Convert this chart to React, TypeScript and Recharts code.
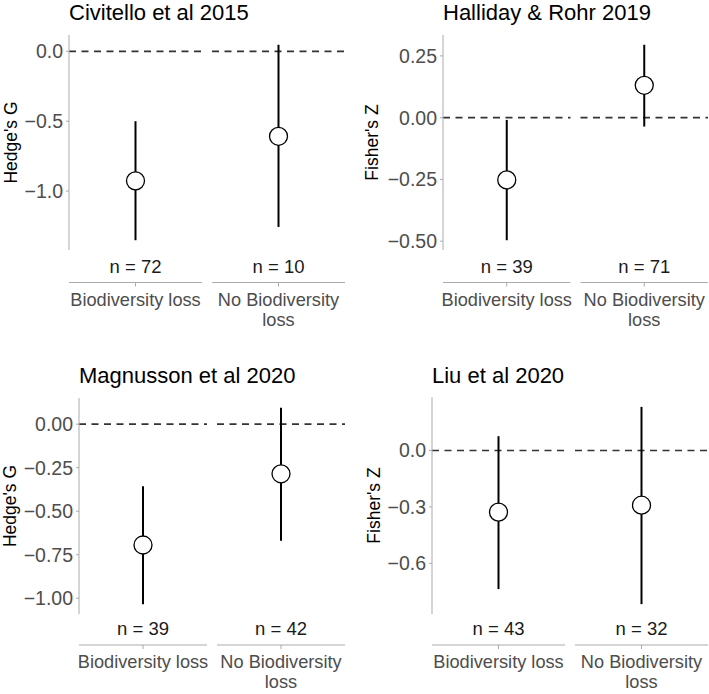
import { ErrorBar, ReferenceLine, Scatter, ScatterChart, XAxis, YAxis } from "recharts";

// category tick labels (wrapped the way the reference wraps them)
const CATEGORY_LINES = [["Biodiversity loss"], ["No Biodiversity", "loss"]];

const civitelloMean = [-0.927, -0.608];
const civitelloLower = [-1.352, -1.257];
const civitelloUpper = [-0.5, 0.047];
const civitelloN = [72, 10];
const civitelloTicks = [0, -0.5, -1];

const hallidayMean = [-0.252, 0.131];
const hallidayLower = [-0.496, -0.036];
const hallidayUpper = [-0.009, 0.295];
const hallidayN = [39, 71];
const hallidayTicks = [0.25, 0, -0.25, -0.5];

const magnussonMean = [-0.694, -0.285];
const magnussonLower = [-1.034, -0.669];
const magnussonUpper = [-0.356, 0.094];
const magnussonN = [39, 42];
const magnussonTicks = [0, -0.25, -0.5, -0.75, -1];

const liuMean = [-0.328, -0.291];
const liuLower = [-0.737, -0.817];
const liuUpper = [0.076, 0.232];
const liuN = [43, 32];
const liuTicks = [0, -0.3, -0.6];

const FONT = "'Liberation Sans', Arial, sans-serif";
const AXIS_GREY = "#ababab";
const TEXT_GREY = "#4d4d4d";
const FACET_GAP = 10;

type Layout = {
  left: number;
  top: number;
  width: number;
  height: number;
  axisWidth: number;
  plotTop: number;
  xAxisHeight: number;
  right: number;
  labelX: number;
  titleBaseline: number;
  shift: number;
};

function fmt(v: number, digits: number) {
  return v.toFixed(digits).replace("-", "\u2212");
}

function FacetTick(props: any) {
  const { x, y, payload, ns, facetWidth, shift } = props;
  const i = Math.round(payload.value) - 1;
  const lines = CATEGORY_LINES[i] ?? [];
  const base = y + shift;
  return (
    <g>
      <text x={x} y={base + 22} textAnchor="middle" fontSize={18.5} fill="#1a1a1a" fontFamily={FONT}>
        {`n = ${ns[i]}`}
      </text>
      <line x1={x - facetWidth / 2} x2={x + facetWidth / 2} y1={base + 32} y2={base + 32} stroke={AXIS_GREY} />
      <line x1={x} x2={x} y1={base + 32} y2={base + 36} stroke={AXIS_GREY} />
      {lines.map((line: string, k: number) => (
        <text
          key={line}
          x={x}
          y={base + 55 + k * 20}
          textAnchor="middle"
          fontSize={18.2}
          fill={TEXT_GREY}
          fontFamily={FONT}
        >
          {line}
        </text>
      ))}
    </g>
  );
}

function EffectPanel({
  title,
  yLabel,
  mean,
  lower,
  upper,
  ns,
  ticks,
  digits,
  layout,
}: {
  title: string;
  yLabel: string;
  mean: number[];
  lower: number[];
  upper: number[];
  ns: number[];
  ticks: number[];
  digits: number;
  layout: Layout;
}) {
  const rows = mean.map((m, i) => ({ x: i + 1, y: m, err: [m - lower[i], upper[i] - m] }));

  const lo = Math.min(...lower);
  const hi = Math.max(...upper);
  const pad = (hi - lo) * 0.05;

  const plotWidth = layout.width - layout.axisWidth - layout.right;
  const facetWidth = (plotWidth - FACET_GAP) / 2;
  const half = facetWidth / 2 / (facetWidth + FACET_GAP);

  return (
    <div style={{ position: "absolute", left: layout.left, top: layout.top, width: layout.width, height: layout.height }}>
      <div
        style={{
          position: "absolute",
          left: layout.axisWidth,
          top: layout.titleBaseline - 18.7,
          fontSize: 22,
          lineHeight: "22px",
          whiteSpace: "nowrap",
          color: "#000",
          fontFamily: FONT,
        }}
      >
        {title}
      </div>
      <ScatterChart
        width={layout.width}
        height={layout.height}
        margin={{ top: layout.plotTop, right: layout.right, bottom: 0, left: 0 }}
      >
        <XAxis
          type="number"
          dataKey="x"
          domain={[1 - half, 2 + half]}
          ticks={[1, 2]}
          allowDataOverflow
          axisLine={false}
          tickLine={false}
          tickSize={0}
          tickMargin={0}
          height={layout.xAxisHeight}
          tick={(p: any) => <FacetTick {...p} ns={ns} facetWidth={facetWidth} shift={layout.shift} />}
        />
        <YAxis
          type="number"
          dataKey="y"
          domain={[lo - pad, hi + pad]}
          ticks={ticks}
          allowDataOverflow
          width={layout.axisWidth}
          stroke={AXIS_GREY}
          tickSize={3}
          tickMargin={3}
          tickFormatter={(v) => fmt(Number(v), digits)}
          tick={{ fill: TEXT_GREY, fontSize: 19.5, fontFamily: FONT }}
          label={{
            content: (p: any) => {
              const vb = p.viewBox;
              const cy = vb.y + vb.height / 2;
              return (
                <text
                  x={layout.labelX}
                  y={cy}
                  transform={`rotate(-90 ${layout.labelX} ${cy})`}
                  textAnchor="middle"
                  dominantBaseline="central"
                  fontSize={17.5}
                  fill="#000"
                  fontFamily={FONT}
                >
                  {yLabel}
                </text>
              );
            },
          }}
        />
        <ReferenceLine
          y={0}
          shape={(p: any) => {
            const mid = (p.x1 + p.x2) / 2;
            const style = { stroke: "#333", strokeWidth: 1.7, strokeDasharray: "7 5.5" };
            return (
              <g>
                <line x1={p.x1} x2={mid - FACET_GAP / 2} y1={p.y1} y2={p.y2} {...style} />
                <line x1={mid + FACET_GAP / 2} x2={p.x2} y1={p.y1} y2={p.y2} {...style} />
              </g>
            );
          }}
        />
        <Scatter
          data={rows}
          isAnimationActive={false}
          shape={(p: any) => <circle cx={p.cx} cy={p.cy} r={9} fill="#fff" stroke="#000" strokeWidth={1.3} />}
        >
          <ErrorBar dataKey="err" direction="y" width={0} stroke="#000" strokeWidth={2} isAnimationActive={false} />
        </Scatter>
      </ScatterChart>
    </div>
  );
}

export default function App() {
  return (
    <div
      style={{
        position: "absolute",
        left: 0,
        top: 0,
        width: 709,
        height: 694,
        background: "#fff",
        fontFamily: FONT,
      }}
    >
      <EffectPanel
        title="Civitello et al 2015"
        yLabel="Hedge's G"
        mean={civitelloMean}
        lower={civitelloLower}
        upper={civitelloUpper}
        ns={civitelloN}
        ticks={civitelloTicks}
        digits={1}
        layout={{ left: 0, top: 0, width: 354, height: 340, axisWidth: 69, plotTop: 35, xAxisHeight: 90, right: 9, labelX: 11, titleBaseline: 20.5, shift: 0.5 }}
      />
      <EffectPanel
        title="Halliday & Rohr 2019"
        yLabel="Fisher's Z"
        mean={hallidayMean}
        lower={hallidayLower}
        upper={hallidayUpper}
        ns={hallidayN}
        ticks={hallidayTicks}
        digits={2}
        layout={{ left: 354, top: 0, width: 355, height: 340, axisWidth: 89, plotTop: 35, xAxisHeight: 90, right: 1, labelX: 18, titleBaseline: 20.5, shift: 0.5 }}
      />
      <EffectPanel
        title="Magnusson et al 2020"
        yLabel="Hedge's G"
        mean={magnussonMean}
        lower={magnussonLower}
        upper={magnussonUpper}
        ns={magnussonN}
        ticks={magnussonTicks}
        digits={2}
        layout={{ left: 0, top: 340, width: 354, height: 354, axisWidth: 79, plotTop: 58, xAxisHeight: 80, right: 9, labelX: 10, titleBaseline: 43.3, shift: -1 }}
      />
      <EffectPanel
        title="Liu et al 2020"
        yLabel="Fisher's Z"
        mean={liuMean}
        lower={liuLower}
        upper={liuUpper}
        ns={liuN}
        ticks={liuTicks}
        digits={1}
        layout={{ left: 354, top: 340, width: 355, height: 354, axisWidth: 78, plotTop: 57, xAxisHeight: 80, right: 1, labelX: 19.5, titleBaseline: 43.3, shift: -1 }}
      />
    </div>
  );
}
